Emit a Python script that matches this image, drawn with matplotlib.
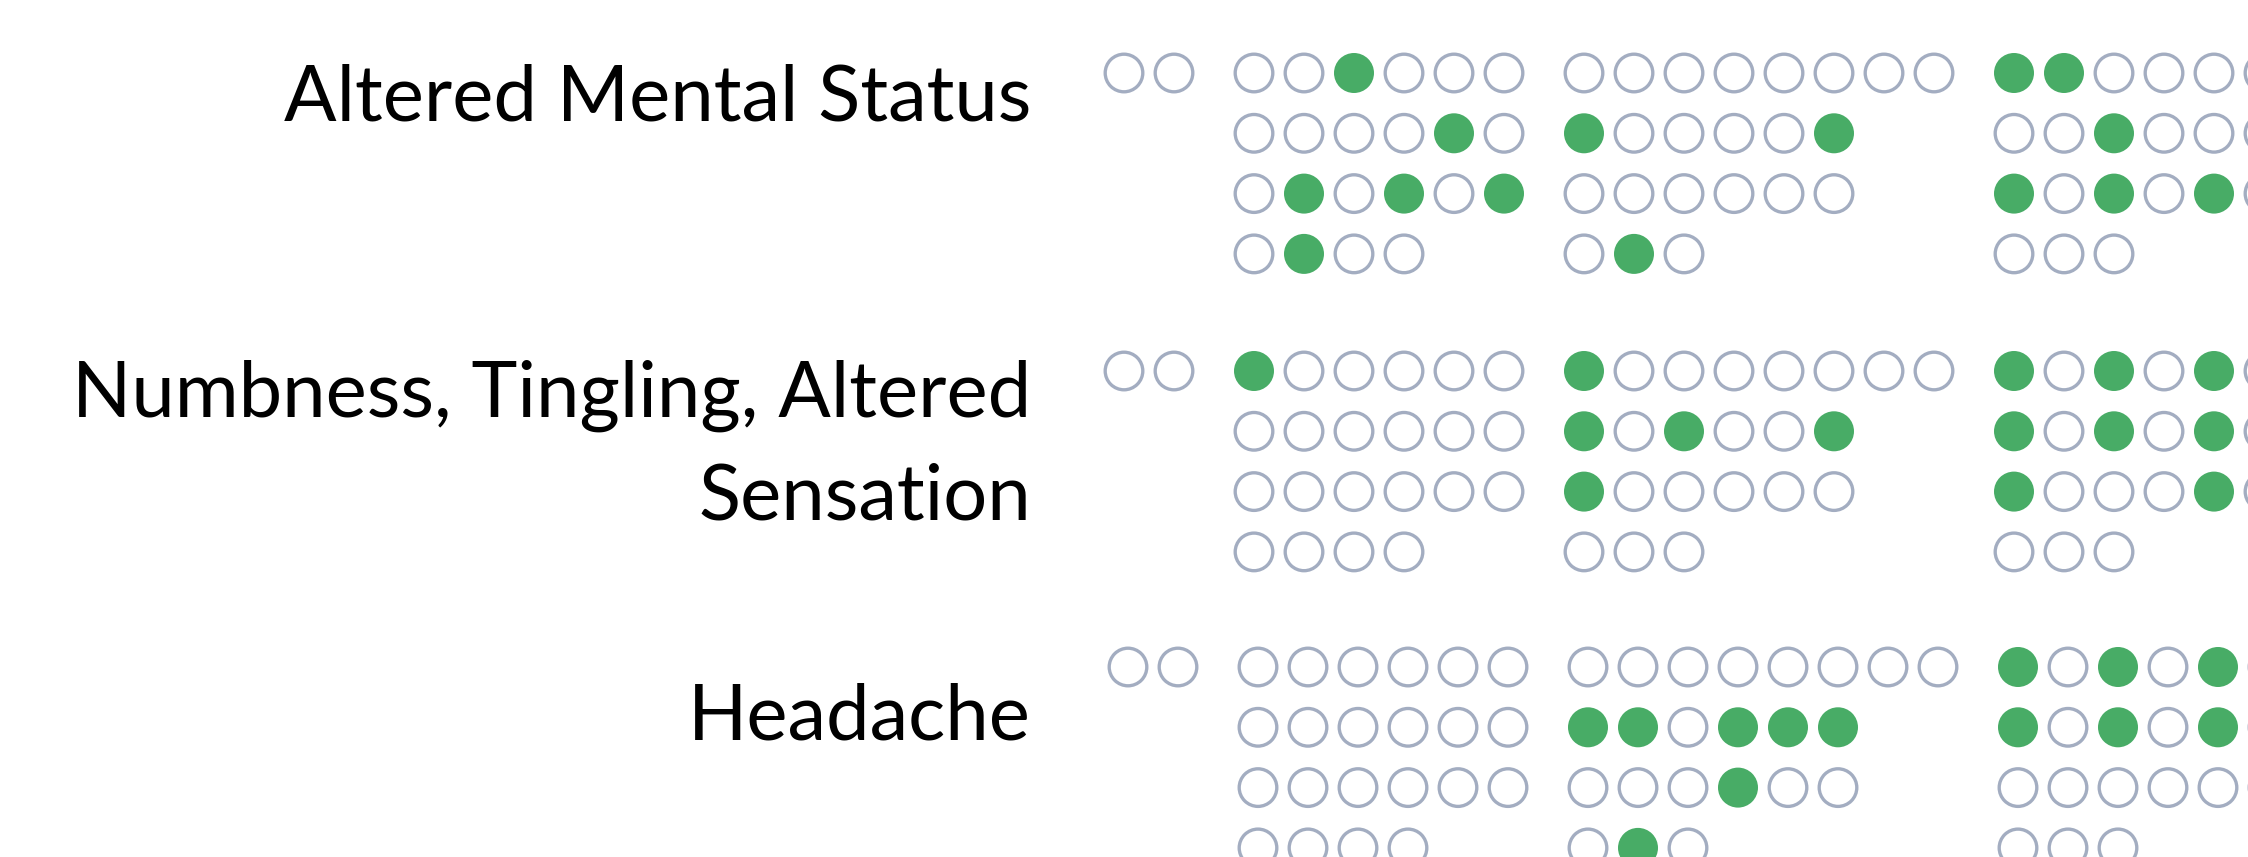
import matplotlib
matplotlib.use('Agg')
import matplotlib.pyplot as plt
from matplotlib.patches import Circle

# row labels (top to bottom)
labels = ['Altered Mental Status',
          'Numbness, Tingling, Altered\nSensation',
          'Headache']

# dot grids: one list per group, one list per dot row, 1 = filled (green)
ams_groups = [
    [[0, 0]],
    [[0, 0, 1, 0, 0, 0], [0, 0, 0, 0, 1, 0], [0, 1, 0, 1, 0, 1], [0, 1, 0, 0]],
    [[0, 0, 0, 0, 0, 0, 0, 0], [1, 0, 0, 0, 0, 1], [0, 0, 0, 0, 0, 0], [0, 1, 0]],
    [[1, 1, 0, 0, 0, 0], [0, 0, 1, 0, 0, 0], [1, 0, 1, 0, 1, 0], [0, 0, 0]],
]
numb_groups = [
    [[0, 0]],
    [[1, 0, 0, 0, 0, 0], [0, 0, 0, 0, 0, 0], [0, 0, 0, 0, 0, 0], [0, 0, 0, 0]],
    [[1, 0, 0, 0, 0, 0, 0, 0], [1, 0, 1, 0, 0, 1], [1, 0, 0, 0, 0, 0], [0, 0, 0]],
    [[1, 0, 1, 0, 1, 0], [1, 0, 1, 0, 1, 0], [1, 0, 0, 0, 1, 0], [0, 0, 0]],
]
head_groups = [
    [[0, 0]],
    [[0, 0, 0, 0, 0, 0], [0, 0, 0, 0, 0, 0], [0, 0, 0, 0, 0, 0], [0, 0, 0, 0]],
    [[0, 0, 0, 0, 0, 0, 0, 0], [1, 1, 0, 1, 1, 1], [0, 0, 0, 1, 0, 0], [0, 1, 0]],
    [[1, 0, 1, 0, 1, 0], [1, 0, 1, 0, 1, 0], [0, 0, 0, 0, 0, 0], [0, 0, 0]],
]
all_groups = [ams_groups, numb_groups, head_groups]

# layout (pixel units, figure is 2248 x 857)
W, H = 2248, 857
x_start = 1124
col_step = 50
group_gap = 80
row_step = 60.3
block_top = [73, 371, 667]
block_dx = [0, 0, 4]
label_right = 1031
label_base = [120, 417, 740]
line_step = 103

green = '#48ac66'
ring = '#a3adc1'

fig = plt.figure(figsize=(W / 100, H / 100), dpi=100)
ax = fig.add_axes([0, 0, 1, 1])
ax.set_xlim(0, W)
ax.set_ylim(H, 0)
ax.axis('off')

for b, groups in enumerate(all_groups):
    gx = x_start + block_dx[b]
    for grp in groups:
        ncols = max(len(r) for r in grp)
        for r, row in enumerate(grp):
            y = block_top[b] + r * row_step
            for c, v in enumerate(row):
                x = gx + c * col_step
                if v:
                    ax.add_patch(Circle((x, y), 20, facecolor=green, edgecolor='none'))
                else:
                    ax.add_patch(Circle((x, y), 18.8, facecolor='white',
                                        edgecolor=ring, linewidth=2.4))
        gx += (ncols - 1) * col_step + group_gap

    # label, one text per line
    for i, line in enumerate(labels[b].split('\n')):
        ax.text(label_right, label_base[b] + i * line_step, line,
                ha='right', va='baseline', fontsize=56, family='Lato', color='black')

fig.savefig('out.png', dpi=100, facecolor='white')
